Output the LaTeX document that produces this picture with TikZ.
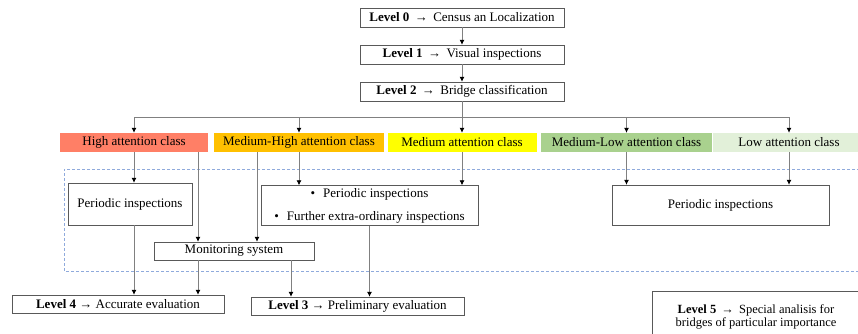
\documentclass[tikz,border=0pt]{standalone}
\usepackage{fontspec}
\setmainfont{Liberation Serif}
\usetikzlibrary{arrows.meta,positioning}
\definecolor{highcol}{HTML}{FF7F66}
\definecolor{mhighcol}{HTML}{FFC000}
\definecolor{medcol}{HTML}{FFFF00}
\definecolor{mlowcol}{HTML}{A9D18E}
\definecolor{lowcol}{HTML}{E2F0D9}
\definecolor{zonecol}{HTML}{8FAADC}

\begin{document}
\begin{tikzpicture}
	[x=1pt,y=-1pt,font=\fontsize{13}{15}\selectfont,
	lvl/.style={draw=black!65,inner sep=0pt,minimum width=204,minimum height=19},
	cls/.style={inner sep=0pt,minimum height=19},
	box/.style={draw=black!65,inner sep=0pt,align=center},
	arr/.style={draw=black!50,thick,-{Latex[length=5pt,width=5pt,black]}}]
	\useasboundingbox (0,0) rectangle (858,334);

	% levels 0-2
	\node[lvl] (l0) at (462,17.5) {\textbf{Level 0} \,→\, Census an Localization};
	\node[lvl] (l1) at (462,54.5) {\textbf{Level 1} \,→\, Visual inspections};
	\node[lvl] (l2) at (462,91.5) {\textbf{Level 2} \,→\, Bridge classification};
	\coordinate (bus) at (462,117);

	% classes
	\node[cls,fill=highcol,minimum width=148] (high) at (134,142.5) {High attention class};
	\node[cls,fill=mhighcol,minimum width=170] (mhigh) at (299,142.5) {Medium-High attention class};
	\node[cls,fill=medcol,minimum width=149] (med) at (462,142.5) {Medium attention class};
	\node[cls,fill=mlowcol,minimum width=171] (mlow) at (626.5,142.5) {Medium-Low attention class};
	\node[cls,fill=lowcol,minimum width=152] (low) at (789,142.5) {Low attention class};

	% monitored zone
	\draw[zonecol,dash pattern=on 3pt off 2pt] (870,169) -- (64,169) -- (64,271) -- (870,271);

	\node[box,minimum width=124,minimum height=42] (pl) at (130,204) {Periodic inspections};
	\node[box,minimum width=217,minimum height=40] (pb) at (369.5,205.5)
		{\textbullet\hspace{8pt}Periodic inspections\\[8pt]\textbullet\hspace{8pt}Further extra-ordinary inspections};
	\node[box,minimum width=217,minimum height=40] (pr) at (720.5,205) {Periodic inspections};
	\node[box,minimum width=160,minimum height=18] (mon) at (234,251) {Monitoring system};

	% results
	\node[box,minimum width=212,minimum height=18] (l4) at (118,304) {\textbf{Level 4} → Accurate evaluation};
	\node[box,minimum width=213,minimum height=18] (l3) at (357.5,306) {\textbf{Level 3} → Preliminary evaluation};
	\node[box,minimum width=208,minimum height=52,font=\fontsize{12.5}{11}\selectfont] (l5) at (756,317)
		{\textbf{Level 5} \,→\, Special analisis for\\bridges of particular importance};

	\draw[arr] (l0) -- (l1);
	\draw[arr] (l1) -- (l2);
	\draw[draw=black!50,thick] (l2) -- (bus);
	\foreach \clsNode in {high,mhigh,med,mlow,low}
		\draw[arr] (bus) -| (\clsNode.north);
	\path[arr]
	\foreach \startNode/\endNode in {high/pl,mhigh/pb,med/pb,mlow/pr,low/pr}
	{
		(\startNode) edge (\startNode |- \endNode.north)
	};
	\draw[arr] ([xshift=64]high.south) -- ([xshift=64]high.south |- mon.north);
	\draw[arr] ([xshift=-42]mhigh.south) -- ([xshift=-42]mhigh.south |- mon.north);
	\draw[arr] (pl.south -| high) -- (l4.north -| high);
	\draw[arr] ([xshift=-36]mon.south) -- ([xshift=-36]mon.south |- l4.north);
	\draw[arr] ([xshift=57]mon.south) -- ([xshift=57]mon.south |- l3.north);
	\draw[arr] (pb.south) -- (pb |- l3.north);
\end{tikzpicture}
\end{document}
